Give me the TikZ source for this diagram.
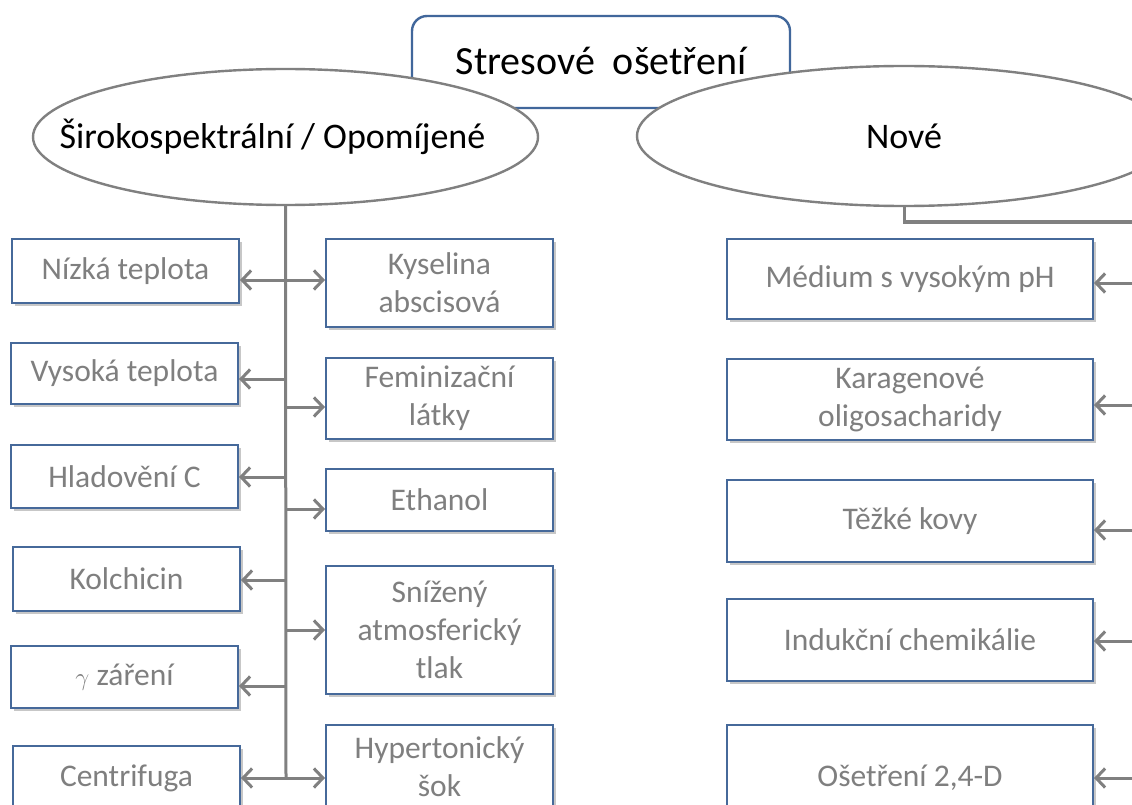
\documentclass[tikz,border=0pt]{standalone}
\usepackage{fontspec}
\setmainfont{Carlito}
\usetikzlibrary{arrows.meta,shapes.geometric,shadows}
\definecolor{boxblue}{HTML}{46699A}
\definecolor{titleblue}{HTML}{41679B}
\definecolor{conngray}{HTML}{808080}
\definecolor{txtgray}{HTML}{7F7F7F}
\begin{document}
\begin{tikzpicture}[x=1pt,y=-1pt,
  itembox/.style={draw=boxblue, line width=2pt, fill=white, inner sep=0pt,
    align=center, text=txtgray, font=\fontsize{31.5}{38}\selectfont,
    drop shadow={shadow xshift=2.5pt,shadow yshift=-3pt,opacity=0.22,fill=black}},
  leftbox/.style={itembox, minimum width=227pt},
  midbox/.style={itembox, minimum width=227pt},
  rightbox/.style={itembox, minimum width=366pt},
  oval/.style={ellipse, draw=conngray, line width=2.4pt, fill=white, inner sep=0pt,
    font=\fontsize{36}{43}\selectfont},
  conn/.style={draw=conngray, line width=3pt},
  arr/.style={conn, -{Straight Barb[length=9pt,width=19pt]}},
  darr/.style={conn, {Straight Barb[length=9pt,width=19pt]}-{Straight Barb[length=9pt,width=19pt]}}
]
\useasboundingbox (0,0) rectangle (1132,805);
\clip (0,0) rectangle (1132,805);
\fill[white] (0,0) rectangle (1132,805);

% title
\node[draw=titleblue, line width=2.4pt, rounded corners=15pt, fill=white,
      minimum width=378pt, minimum height=92pt, inner sep=0pt,
      font=\fontsize{40}{48}\selectfont, text=black] (title) at (601,62)
      {\raisebox{3pt}{Stresové\ \ ošetření}};

% ellipses
\node[oval, minimum width=505pt, minimum height=136pt,
      label={[xshift=-13pt,font=\fontsize{36}{43}\selectfont]center:Širokospektrální / Opomíjené}]
      (sirok) at (285.5,137) {};
\node[oval, minimum width=534pt, minimum height=140pt] (nove) at (904,136) {Nové};

% left column
\node[leftbox, minimum height=64pt] (L1) at (125.5,271) {Nízká teplota};
\node[leftbox, minimum height=61pt] (L2) at (124.5,373.5) {Vysoká teplota};
\node[leftbox, minimum height=63pt] (L3) at (124.5,476.5) {Hladovění C};
\node[leftbox, minimum height=64pt] (L4) at (126.5,579) {Kolchicin};
\node[leftbox, minimum height=62pt] (L5) at (124.5,677) {$\gamma$ záření};
\node[leftbox, minimum height=64pt] (L6) at (126.5,778) {Centrifuga};

% middle column
\node[midbox, minimum height=88pt] (M1) at (439.5,283) {Kyselina\\abscisová};
\node[midbox, minimum height=81pt] (M2) at (439.5,398.5) {Feminizační\\látky};
\node[midbox, minimum height=62pt] (M3) at (439.5,500) {Ethanol};
\node[midbox, minimum height=128pt] (M4) at (439.5,630) {Snížený\\atmosferický\\tlak};
\node[midbox, minimum height=84pt] (M5) at (439.5,767) {Hypertonický\\šok};

% right column
\node[rightbox, minimum height=80pt] (R1) at (910,279) {Médium s vysokým pH};
\node[rightbox, minimum height=81pt] (R2) at (910,399.5) {Karagenové\\oligosacharidy};
\node[rightbox, minimum height=82pt] (R3) at (910,521) {Těžké kovy};
\node[rightbox, minimum height=82pt] (R4) at (910,640) {Indukční chemikálie};
\node[rightbox, minimum height=106pt] (R5) at (910,778) {Ošetření 2,4-D};

% left trunk
\coordinate (tbot) at (286,778);
\draw[conn] (sirok.south) -- (tbot);
\coordinate (t1) at (286,280);
\coordinate (t2) at (286,379);
\coordinate (t3) at (286,407);
\coordinate (t4) at (286,477);
\coordinate (t5) at (286,509);
\coordinate (t6) at (286,580);
\coordinate (t7) at (286,630);
\coordinate (t8) at (286,686);
\draw[darr] (t1 -| L1.east) -- (t1 -| M1.west);
\draw[arr] (t2) -- (t2 -| L2.east);
\draw[arr] (t3) -- (t3 -| M2.west);
\draw[arr] (t4) -- (t4 -| L3.east);
\draw[arr] (t5) -- (t5 -| M3.west);
\draw[arr] (t6) -- (t6 -| L4.east);
\draw[arr] (t7) -- (t7 -| M4.west);
\draw[arr] (t8) -- (t8 -| L5.east);
\draw[darr] (tbot -| L6.east) -- (tbot -| M5.west);

% right trunk (off the page)
\coordinate (rtop) at (1150,222);
\coordinate (rbot) at (1150,778);
\draw[conn] (nove.south) |- (rtop) -- (rbot);
\coordinate (r1) at (1150,283);
\coordinate (r2) at (1150,405);
\coordinate (r3) at (1150,530);
\coordinate (r4) at (1150,641);
\draw[arr] (r1) -- (r1 -| R1.east);
\draw[arr] (r2) -- (r2 -| R2.east);
\draw[arr] (r3) -- (r3 -| R3.east);
\draw[arr] (r4) -- (r4 -| R4.east);
\draw[arr] (rbot) -- (rbot -| R5.east);
\end{tikzpicture}
\end{document}
